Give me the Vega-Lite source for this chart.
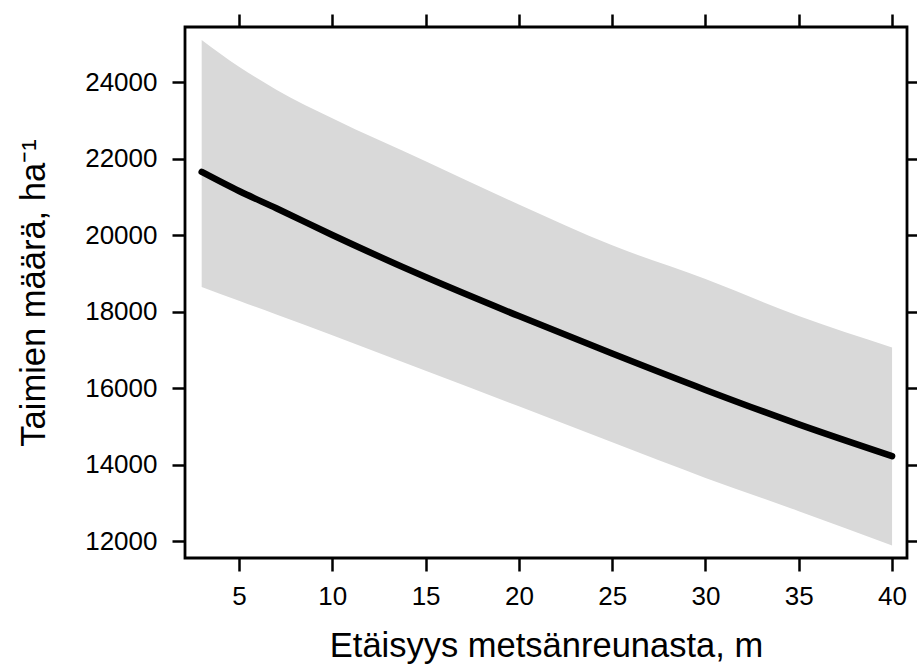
{
  "$schema": "https://vega.github.io/schema/vega-lite/v6.json",
  "width": 722,
  "height": 531,
  "autosize": {"type": "none"},
  "padding": {"left": 185, "top": 27, "right": 10, "bottom": 108},
  "background": "white",
  "config": {
    "font": "Liberation Sans",
    "view": {"stroke": "black", "strokeWidth": 2.8},
    "axis": {
      "grid": false,
      "domain": false,
      "ticks": true,
      "tickColor": "black",
      "tickWidth": 2.5,
      "tickSize": 13,
      "labelFont": "Liberation Sans",
      "labelFontSize": 26,
      "labelColor": "black",
      "titleFont": "Liberation Sans",
      "titleFontSize": 34.5,
      "titleFontWeight": "normal",
      "titleColor": "black"
    }
  },
  "data": {
    "values": [
      {"x": 3, "fit": 21650, "lower": 18640, "upper": 25100},
      {"x": 5, "fit": 21150, "lower": 18280, "upper": 24400},
      {"x": 7, "fit": 20700, "lower": 17920, "upper": 23800},
      {"x": 10, "fit": 20000, "lower": 17380, "upper": 23050},
      {"x": 15, "fit": 18900, "lower": 16450, "upper": 21930},
      {"x": 20, "fit": 17880, "lower": 15520, "upper": 20800},
      {"x": 25, "fit": 16900, "lower": 14580, "upper": 19730},
      {"x": 30, "fit": 15950, "lower": 13650, "upper": 18850},
      {"x": 35, "fit": 15050, "lower": 12780, "upper": 17880},
      {"x": 40, "fit": 14220, "lower": 11880, "upper": 17060}
    ]
  },
  "layer": [
    {
      "mark": {"type": "area", "color": "#d9d9d9", "interpolate": "monotone"},
      "encoding": {
        "x": {
          "field": "x",
          "type": "quantitative",
          "scale": {"domain": [2.106, 40.8], "nice": false, "zero": false},
          "axis": {
            "orient": "bottom",
            "values": [5, 10, 15, 20, 25, 30, 35, 40],
            "labelPadding": 12,
            "title": "Etäisyys metsänreunasta, m",
            "titlePadding": 20
          }
        },
        "y": {
          "field": "lower",
          "type": "quantitative",
          "scale": {"domain": [11556, 25438], "nice": false, "zero": false},
          "axis": {
            "orient": "left",
            "values": [12000, 14000, 16000, 18000, 20000, 22000, 24000],
            "format": "d",
            "labelPadding": 15,
            "title": "Taimien määrä, ha⁻¹",
            "titlePadding": 33
          }
        },
        "y2": {"field": "upper"}
      }
    },
    {
      "mark": {"type": "line", "color": "black", "strokeWidth": 6.5, "strokeCap": "round", "interpolate": "monotone"},
      "encoding": {
        "x": {
          "field": "x",
          "type": "quantitative",
          "axis": {
            "orient": "top",
            "values": [5, 10, 15, 20, 25, 30, 35, 40],
            "labels": false,
            "title": null
          }
        },
        "y": {
          "field": "fit",
          "type": "quantitative",
          "axis": {
            "orient": "right",
            "values": [12000, 14000, 16000, 18000, 20000, 22000, 24000],
            "labels": false,
            "title": null
          }
        }
      }
    }
  ],
  "resolve": {"axis": {"x": "independent", "y": "independent"}}
}
